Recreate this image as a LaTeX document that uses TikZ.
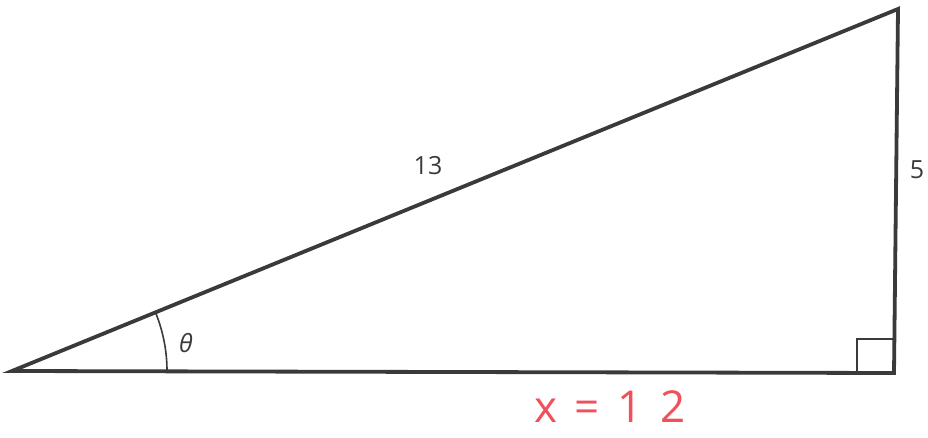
\documentclass[tikz,border=0pt]{standalone}
\usepackage{fontspec}
\setmainfont{Open Sans}
\definecolor{edge}{HTML}{3A3A3A}
\definecolor{hand}{HTML}{F0505A}
\begin{document}
\begin{tikzpicture}[x=1pt,y=-1pt,
  side/.style={draw=edge,line width=3.8pt,line join=miter},
  thin/.style={draw=edge,line width=1.6pt},
  lbl/.style={text=edge,font=\fontsize{25}{30}\selectfont,inner sep=0pt}]
\useasboundingbox (0,0) rectangle (928,438);
\coordinate (A) at (12,371);
\coordinate (B) at (894,373);
\coordinate (C) at (898,9);
\draw[side] (A) -- (B) -- (C) -- cycle;
\draw[thin] (857,373) -- (857,339) -- (894,339);
\draw[thin] ([shift={(0:155)}]A) arc[start angle=0,end angle=-22.3,radius=155];
\node[lbl] (t13) at (428,166) {13};
\node[lbl] (t5) at (917,170) {5};
\node[lbl] (th) at (186,343) {\itshape θ};
\node[text=hand,font=\fontsize{44}{48}\selectfont\addfontfeature{LetterSpace=40},inner sep=0pt] (x12) at (610,407) {x=12};
\end{tikzpicture}
\end{document}
